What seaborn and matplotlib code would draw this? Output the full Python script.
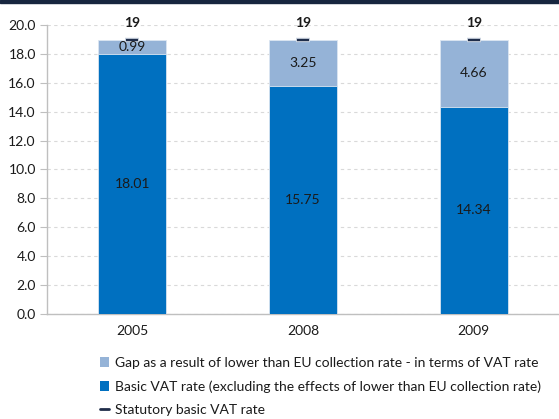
import matplotlib
matplotlib.use("Agg")
import matplotlib.pyplot as plt
import seaborn as sns
import pandas as pd
from matplotlib.lines import Line2D
from matplotlib.patches import Patch

years = ["2005", "2008", "2009"]
basic_rate = [18.01, 15.75, 14.34]
gap_rate = [0.99, 3.25, 4.66]
statutory_rate = [19, 19, 19]
y_ticks = [0.0, 2.0, 4.0, 6.0, 8.0, 10.0, 12.0, 14.0, 16.0, 18.0, 20.0]

labels = [
    "Gap as a result of lower than EU collection rate - in terms of VAT rate",
    "Basic VAT rate (excluding the effects of lower than EU collection rate)",
    "Statutory basic VAT rate",
]

DARK = "#0070C0"
LIGHT = "#95B3D7"
NAVY = "#1F2D4A"
TEXT = "#1a1a1a"

sns.set_style("white")
plt.rcParams["font.family"] = ["Lato", "DejaVu Sans"]

df = pd.DataFrame({
    "year": years,
    "basic": basic_rate,
    "gap": gap_rate,
    "total": [b + g for b, g in zip(basic_rate, gap_rate)],
    "statutory": statutory_rate,
})

fig = plt.figure(figsize=(5.59, 4.19), dpi=100)
ax = fig.add_axes([0.084, 0.251, 0.916, 0.689])

# stacked bars: full height in the light colour, basic rate on top of it in dark
sns.barplot(data=df, x="year", y="total", color=LIGHT, width=0.4,
            saturation=1, ax=ax, edgecolor="#dce6f2", linewidth=0.6, zorder=3)
sns.barplot(data=df, x="year", y="basic", color=DARK, width=0.4,
            saturation=1, ax=ax, edgecolor="#dce6f2", linewidth=0.6, zorder=4)

# statutory rate marker
xs = range(len(years))
ax.scatter(xs, df["statutory"], marker="_", s=100, color="#c9d2de",
           linewidths=3.2, zorder=5)
ax.scatter(xs, df["statutory"], marker="_", s=80, color=NAVY,
           linewidths=1.6, zorder=6)

for i, row in df.iterrows():
    ax.text(i, row["basic"] / 2, f"{row['basic']:.2f}", ha="center",
            va="center", fontsize=10, color=TEXT, zorder=7)
    ax.text(i, row["basic"] + row["gap"] / 2, f"{row['gap']:.2f}",
            ha="center", va="center", fontsize=10, color=TEXT, zorder=7)
    ax.text(i, row["statutory"] + 1.15, f"{row['statutory']:d}",
            ha="center", va="center", fontsize=10, fontweight="bold",
            color=TEXT, zorder=7, clip_on=False)

ax.set_xlim(-0.5, 2.5)
ax.set_ylim(0, 20)
ax.set_yticks(y_ticks)
ax.set_yticklabels([f"{v:.1f}" for v in y_ticks])
ax.set_xlabel("")
ax.set_ylabel("")
ax.yaxis.grid(True, linestyle=(0, (3, 3)), color="#d9d9d9", linewidth=0.8)
ax.set_axisbelow(True)
for s in ["top", "right"]:
    ax.spines[s].set_visible(False)
for s in ["left", "bottom"]:
    ax.spines[s].set_color("#bfbfbf")
    ax.spines[s].set_linewidth(1.0)
ax.tick_params(axis="y", length=5, color="#bfbfbf", labelsize=10,
               labelcolor=TEXT, pad=3, left=True)
ax.tick_params(axis="x", length=0, labelsize=10, labelcolor=TEXT, pad=8)

handles = [
    Patch(facecolor=LIGHT, edgecolor="none"),
    Patch(facecolor=DARK, edgecolor="none"),
    Line2D([0], [0], color=NAVY, linewidth=2),
]
fig.legend(handles, labels, loc="upper left", bbox_to_anchor=(0.178, 0.148),
           frameon=False, fontsize=10, handlelength=0.7, handleheight=0.7,
           handletextpad=0.4, labelspacing=0.82, labelcolor=TEXT,
           borderaxespad=0, borderpad=0)

# dark band across the top edge
fig.patches.append(plt.Rectangle((0, 0.993), 1, 0.007, transform=fig.transFigure,
                                 color="#17263F", zorder=10))

fig.savefig("out.png", dpi=100)
